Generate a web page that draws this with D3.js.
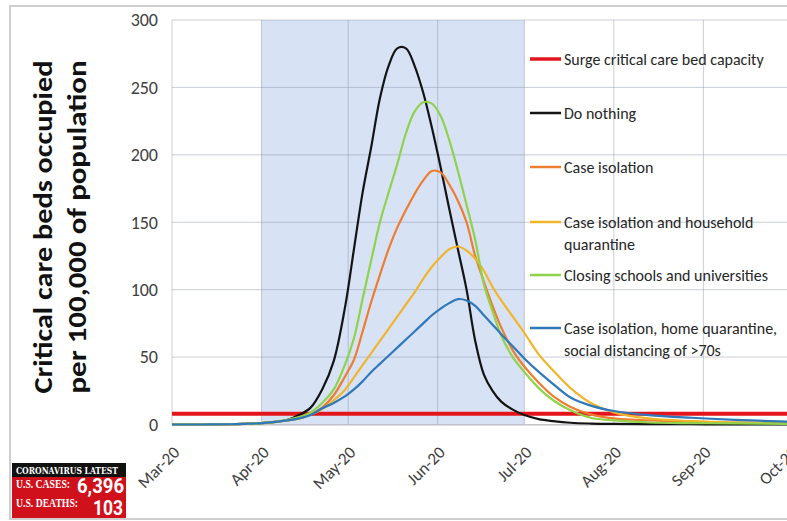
<!DOCTYPE html>
<meta charset="utf-8">
<script src="https://cdnjs.cloudflare.com/ajax/libs/d3/7.8.5/d3.min.js"></script>
<style>
  body { margin: 0; background: #fff; }
  svg { display: block; }
</style>
<div id="chart"></div>
<script>
// sample dates and the values of each scenario
const dates = ["2020-03-01","2020-03-11","2020-03-21","2020-03-26","2020-04-01","2020-04-06","2020-04-10",
  "2020-04-14","2020-04-18","2020-04-22","2020-04-26","2020-04-30","2020-05-03","2020-05-06","2020-05-09",
  "2020-05-12","2020-05-15","2020-05-18","2020-05-21","2020-05-24","2020-05-27","2020-05-30","2020-06-02",
  "2020-06-05","2020-06-08","2020-06-11","2020-06-14","2020-06-17","2020-06-20","2020-06-23","2020-06-27",
  "2020-07-01","2020-07-06","2020-07-11","2020-07-17","2020-07-24","2020-08-01","2020-08-13","2020-08-28",
  "2020-09-12","2020-10-01"];

const doNothing = [0,0,0.2,0.5,1,2,3.5,7,12.5,26,47,88,130,172,206,242,266,279,279,266,246,220,191,160,130,
  100,62,37,25,17,11,7,4,2.5,1.3,0.7,0.4,0.3,0.2,0.1,0];
const caseIsolation = [0,0,0.2,0.5,1,2,3,4.5,7.5,12.5,21.7,36,48,69,91,111,130,146,159,171,181,188,187,178,166,
  150,125,106,88,72,55,43,31,21,13,7.5,4.5,3,2,1.5,1];
const householdQuarantine = [0,0,0.2,0.5,1,2,3,4.5,7.5,11.5,18,26,35,44,53,62,71,80,89,98,108,117,124,130,132,
  129,123,114,102,92,80,68,52,40,27,16,9,4.5,2.5,1.5,1];
const closingSchools = [0,0,0.2,0.5,1,2,3.5,5.5,9,16,26,45,64,93,122,150,172,193,216,232,239,238,229,211,188,
  163,137,104,84,66,50,39,27,18,10.5,5,3,1.5,1,0.8,0.5];
const socialDistancing = [0,0,0.2,0.5,1,2,3,4.5,7,12,16,21,26,32,39,45,51,57,63,69,75,81,86,90,93,
  92,88,81,74,67,58,49,39,30,20,14,10,7,5,3.5,2];
const surgeCapacity = 8;

const monthTicks = ["2020-03-01","2020-04-01","2020-05-01","2020-06-01","2020-07-01","2020-08-01","2020-09-01","2020-10-01"];
const yTicks = [0, 50, 100, 150, 200, 250, 300];
const interventionPeriod = ["2020-04-01", "2020-07-01"];

const seriesNames = ["Do nothing", "Case isolation", "Case isolation and household|quarantine",
  "Closing schools and universities", "Case isolation, home quarantine,|social distancing of >70s"];
const seriesValues = [doNothing, caseIsolation, householdQuarantine, closingSchools, socialDistancing];
const seriesColors = ["#141414", "#ed7d31", "#f1b52c", "#8fd24c", "#2f78b9"];

const parse = d3.timeParse("%Y-%m-%d");
const W = 787, H = 521;
const font = "Carlito, Lato, sans-serif";

const svg = d3.select("#chart").append("svg")
  .attr("width", W).attr("height", H);

svg.append("rect").attr("x", 10).attr("y", 6).attr("width", W).attr("height", 513)
  .attr("fill", "#fff").attr("stroke", "#cfcfcf").attr("stroke-width", 2);

const x = d3.scaleTime()
  .domain([parse("2020-03-01"), parse("2020-10-01")])
  .range([172, 790]);
const y = d3.scaleLinear().domain([0, 300]).range([424.5, 20]);

// shaded intervention period
svg.append("rect")
  .attr("x", x(parse(interventionPeriod[0])))
  .attr("y", y(300))
  .attr("width", x(parse(interventionPeriod[1])) - x(parse(interventionPeriod[0])))
  .attr("height", y(0) - y(300))
  .attr("fill", "#d7e2f5");

// gridlines
svg.append("g").selectAll("line").data(yTicks).join("line")
  .attr("x1", 172).attr("x2", 790)
  .attr("y1", d => y(d)).attr("y2", d => y(d))
  .attr("stroke", "#8a93a6").attr("stroke-opacity", 0.45);
svg.append("g").selectAll("line").data(monthTicks).join("line")
  .attr("x1", d => x(parse(d))).attr("x2", d => x(parse(d)))
  .attr("y1", y(300)).attr("y2", y(0))
  .attr("stroke", "#8a93a6").attr("stroke-opacity", 0.45);

// y axis labels
const yAxis = svg.append("g")
  .attr("transform", "translate(158,0)")
  .call(d3.axisLeft(y).tickValues(yTicks).tickSize(0).tickPadding(0));
yAxis.select(".domain").remove();
yAxis.selectAll("text")
  .attr("font-family", font).attr("font-size", 18).attr("fill", "#404040");

// x axis labels
const xAxis = svg.append("g")
  .attr("transform", "translate(0," + y(0) + ")")
  .call(d3.axisBottom(x).tickValues(monthTicks.map(parse)).tickSize(0).tickFormat(d3.timeFormat("%b-%y")));
xAxis.select(".domain").attr("stroke", "#bfbfbf");
xAxis.selectAll("text")
  .attr("font-family", font).attr("font-size", 17).attr("fill", "#404040")
  .attr("text-anchor", "end")
  .attr("dy", null).attr("y", 0)
  .attr("transform", "translate(8,29) rotate(-45)");

// y axis title
const title = svg.append("g").attr("transform", "translate(0,227)");
["Critical care beds occupied", "per 100,000 of population"].forEach((t, i) => {
  title.append("text")
    .attr("transform", "translate(" + (43 + i * 34) + ",0) rotate(-90)")
    .attr("text-anchor", "middle").attr("dy", "0.35em")
    .attr("font-family", font).attr("font-weight", 700)
    .attr("font-size", 27).attr("fill", "#111")
    .attr("textLength", 333).attr("lengthAdjust", "spacingAndGlyphs")
    .text(t);
});

// surge capacity
svg.append("line")
  .attr("x1", x(parse(dates[0]))).attr("x2", x(parse(dates[dates.length - 1])))
  .attr("y1", y(surgeCapacity)).attr("y2", y(surgeCapacity))
  .attr("stroke", "#e3141b").attr("stroke-width", 4);

// scenario curves
const line = d3.line()
  .curve(d3.curveCatmullRom)
  .x((d, i) => x(parse(dates[i])))
  .y(d => y(d));

seriesValues.forEach((vals, k) => {
  svg.append("path")
    .datum(vals)
    .attr("fill", "none")
    .attr("stroke", seriesColors[k])
    .attr("stroke-width", 2.2)
    .attr("d", line);
});

// legend
const legendRows = [59, 113, 167, 222, 275, 328];
const legendNames = ["Surge critical care bed capacity"].concat(seriesNames);
const legendColors = ["#e3141b"].concat(seriesColors);
legendNames.forEach((name, i) => {
  const g = svg.append("g").attr("transform", "translate(530," + legendRows[i] + ")");
  g.append("line").attr("x1", 0).attr("x2", 31)
    .attr("stroke", legendColors[i]).attr("stroke-width", i === 0 ? 3.5 : 2.5);
  name.split("|").forEach((part, j) => {
    g.append("text")
      .attr("x", 34).attr("y", j * 22).attr("dy", "0.35em")
      .attr("font-family", font).attr("font-size", 16)
      .attr("fill", "#262626")
      .text(part);
  });
});

// news badge
const badge = svg.append("g").attr("transform", "translate(12,463)");
badge.append("rect").attr("width", 114).attr("height", 14).attr("fill", "#111");
badge.append("rect").attr("y", 14).attr("width", 114).attr("height", 41).attr("fill", "#d0101b");
badge.append("text").attr("x", 4).attr("y", 11)
  .attr("font-family", "DejaVu Serif, serif").attr("font-weight", 700).attr("font-size", 9)
  .attr("fill", "#fff").attr("textLength", 102).attr("lengthAdjust", "spacingAndGlyphs")
  .text("CORONAVIRUS LATEST");
badge.append("text").attr("x", 4).attr("y", 25)
  .attr("font-family", "Liberation Serif, serif").attr("font-weight", 700).attr("font-size", 12)
  .attr("fill", "#fff").attr("textLength", 54).attr("lengthAdjust", "spacingAndGlyphs")
  .text("U.S. CASES:");
badge.append("text").attr("x", 4).attr("y", 44)
  .attr("font-family", "Liberation Serif, serif").attr("font-weight", 700).attr("font-size", 12)
  .attr("fill", "#fff").attr("textLength", 62).attr("lengthAdjust", "spacingAndGlyphs")
  .text("U.S. DEATHS:");
badge.append("text").attr("x", 65).attr("y", 30)
  .attr("font-family", "Roboto, sans-serif").attr("font-weight", 700).attr("font-size", 21)
  .attr("fill", "#fff").attr("textLength", 47).attr("lengthAdjust", "spacingAndGlyphs")
  .text("6,396");
badge.append("text").attr("x", 81).attr("y", 52)
  .attr("font-family", "Roboto, sans-serif").attr("font-weight", 700).attr("font-size", 21)
  .attr("fill", "#fff").attr("textLength", 30).attr("lengthAdjust", "spacingAndGlyphs")
  .text("103");
</script>
